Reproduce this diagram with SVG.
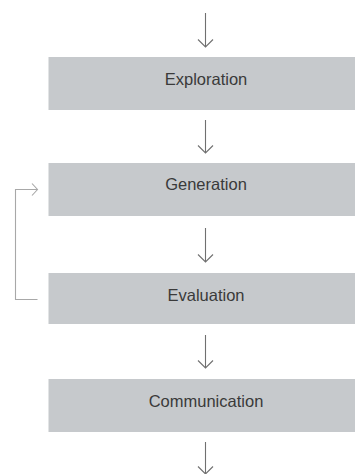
<svg xmlns="http://www.w3.org/2000/svg" width="355" height="474" viewBox="0 0 355 474">
<style>
.box{fill:#c6c9cc;}
.lbl{font-family:"Liberation Sans",Arial,sans-serif;font-size:16.5px;fill:#3a3a3a;text-anchor:middle;}
.ln{fill:none;stroke:#707070;stroke-width:1.1;}
.fb{fill:none;stroke:#a8a8a8;stroke-width:1.1;}
</style>
<rect width="355" height="474" fill="#ffffff"/>
<g id="connectors">
<path class="ln" d="M205.5,13V47M198,39.5L205.5,47L213,39.5"/>
<path class="ln" d="M205.5,120V153M198,145.5L205.5,153L213,145.5"/>
<path class="ln" d="M205.5,228V262M198,254.5L205.5,262L213,254.5"/>
<path class="ln" d="M205.5,335V368M198,360.5L205.5,368L213,360.5"/>
<path class="ln" d="M205.5,442V474M198,466.5L205.5,474L213,466.5"/>
<path class="fb" d="M37.5,299.5H15.5V189.5H37.5M32,183.5L37.5,189.5L32,195.5"/>
</g>
<g id="exploration"><rect class="box" x="48.5" y="57" width="306.5" height="53"/><text class="lbl" x="206" y="84.5">Exploration</text></g>
<g id="generation"><rect class="box" x="48.5" y="163" width="306.5" height="53"/><text class="lbl" x="206" y="190">Generation</text></g>
<g id="evaluation"><rect class="box" x="48.5" y="273" width="306.5" height="51"/><text class="lbl" x="206" y="301">Evaluation</text></g>
<g id="communication"><rect class="box" x="48.5" y="379" width="306.5" height="53"/><text class="lbl" x="206" y="407">Communication</text></g>
</svg>
